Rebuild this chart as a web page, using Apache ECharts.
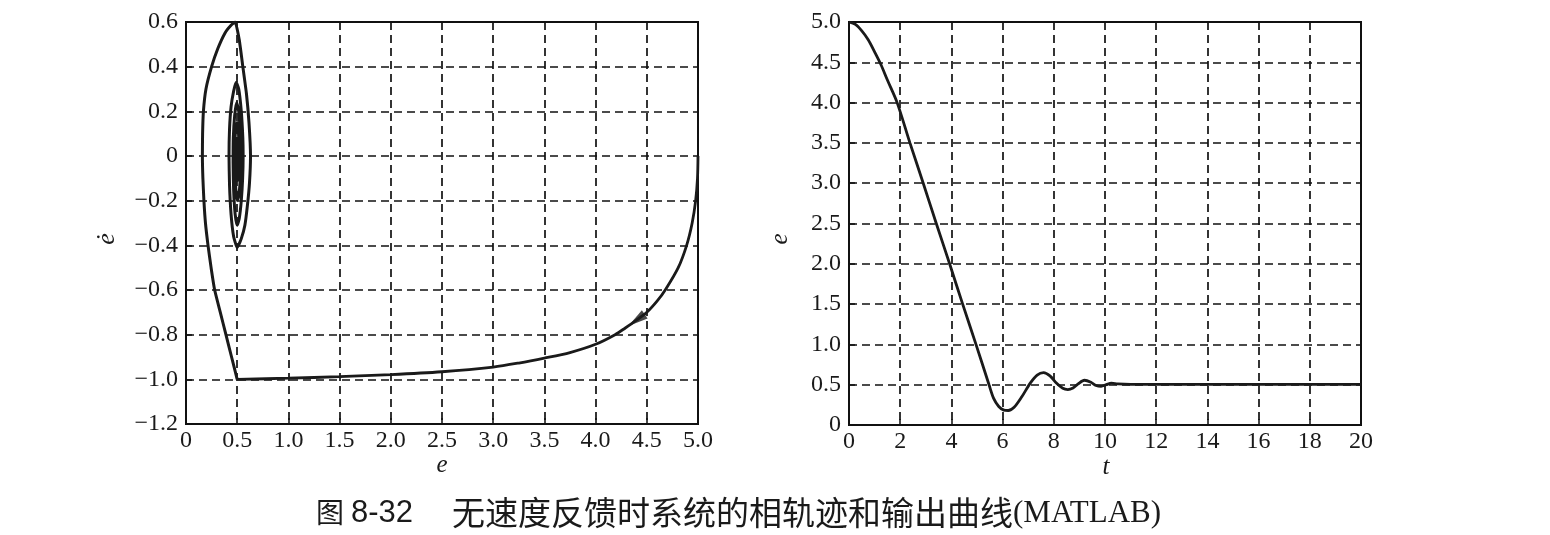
<!DOCTYPE html>
<html>
<head>
<meta charset="utf-8">
<script src="https://cdn.jsdelivr.net/npm/echarts@6/dist/echarts.min.js"></script>
<style>
  html, body { margin: 0; padding: 0; background: #fff; }
  #chart { width: 1550px; height: 535px; }
</style>
</head>
<body>
<div id="chart"></div>
<script>
// phase trajectory, part 1: from (5, 0) down to the corner at (0.5, -1)
var approachE = [5.00, 4.995, 4.977, 4.943, 4.889, 4.807, 4.68, 4.60, 4.50, 4.40, 4.29, 4.19, 4.00, 3.75, 3.50, 3.25,
  3.00, 2.50, 2.00, 1.50, 1.00, 0.50];
var approachEdot = [0.00, -0.10, -0.20, -0.30, -0.40, -0.50, -0.60, -0.65, -0.70, -0.735, -0.77, -0.80, -0.843, -0.88, -0.905, -0.927,
  -0.945, -0.966, -0.979, -0.988, -0.995, -1.00];

// phase trajectory, part 2: from the corner up and into the spiral round (0.5, 0)
var spiralE = [0.50, 0.445, 0.39, 0.335, 0.28, 0.245, 0.215, 0.19, 0.175, 0.165, 0.16, 0.162, 0.17, 0.195, 0.25, 0.31, 0.38, 0.44, 0.48,
  0.52, 0.555, 0.59, 0.615, 0.63, 0.62, 0.60, 0.575, 0.54, 0.50,
  0.465, 0.44, 0.425, 0.42, 0.425, 0.44, 0.465, 0.49,
  0.515, 0.54, 0.555, 0.558, 0.553, 0.54, 0.52, 0.50,
  0.48, 0.465, 0.46, 0.462, 0.475, 0.495,
  0.515, 0.53, 0.535, 0.53, 0.515, 0.50,
  0.485, 0.478, 0.478, 0.485, 0.50,
  0.513, 0.518, 0.515, 0.505, 0.495, 0.49, 0.493, 0.50,
  0.507, 0.508, 0.503, 0.497, 0.497, 0.50, 0.502];
var spiralEdot = [-1.00, -0.90, -0.80, -0.70, -0.60, -0.50, -0.40, -0.30, -0.20, -0.10, 0.00, 0.10, 0.20, 0.30, 0.40, 0.48, 0.55, 0.585, 0.60,
  0.52, 0.40, 0.28, 0.15, 0.00, -0.12, -0.22, -0.31, -0.37, -0.41,
  -0.36, -0.26, -0.13, 0.00, 0.12, 0.22, 0.29, 0.33,
  0.30, 0.20, 0.08, 0.00, -0.10, -0.20, -0.28, -0.31,
  -0.26, -0.15, -0.03, 0.08, 0.18, 0.24,
  0.20, 0.10, 0.00, -0.10, -0.18, -0.20,
  -0.14, -0.05, 0.05, 0.12, 0.15,
  0.10, 0.02, -0.06, -0.11, -0.08, 0.00, 0.06, 0.08,
  0.04, -0.02, -0.05, -0.02, 0.02, 0.03, 0.00];
var arrowPoint = [4.40, -0.735];

// output curve e(t) (right plot)
var timeT = [0, 0.25, 0.5, 0.75, 1.0, 1.25, 1.5, 1.88, 2.38, 2.9, 3.41, 3.93, 4.44, 4.96, 5.47, 5.65, 5.85, 6.05, 6.22, 6.45,
  6.75, 7.08, 7.35, 7.6, 7.85, 8.1, 8.35, 8.55, 8.75, 8.95, 9.2, 9.45, 9.65, 9.85, 10.05, 10.25, 10.5, 11, 12, 20];
var timeE = [5.0, 4.97, 4.89, 4.78, 4.63, 4.47, 4.28, 4.0, 3.5, 3.0, 2.5, 2.0, 1.5, 1.0, 0.5, 0.33, 0.23, 0.185, 0.18, 0.22,
  0.35, 0.52, 0.62, 0.65, 0.61, 0.52, 0.455, 0.44, 0.46, 0.51, 0.555, 0.53, 0.49, 0.48, 0.5, 0.52, 0.51, 0.505, 0.505, 0.505];

var caption = ['图', '8-32', '无速度反馈时系统的相轨迹和输出曲线', '(MATLAB)'];

function zip(a, b) {
  var out = [];
  for (var i = 0; i < a.length; i++) out.push([a[i], b[i]]);
  return out;
}
function fmt(v) {
  if (Math.abs(v) < 1e-9) return '0';
  return v.toFixed(1).replace('-', '\u2212');
}

var serif = '"Liberation Serif", "Times New Roman", serif';
var ink = '#1a1a1a';
var labelStyle = { color: ink, fontFamily: serif, fontSize: 24 };
var gridLine = { show: true, lineStyle: { color: '#111', type: [8, 5], width: 1.7 } };
var axisLine = { show: true, onZero: false, lineStyle: { color: '#111', width: 2 } };
var tick = { show: true, inside: true, length: 6, lineStyle: { color: '#111', width: 1.5 } };
var curve = { color: ink, width: 2.8 };

function xAx(grid, min, max, step, f) {
  return {
    type: 'value', gridIndex: grid, min: min, max: max, interval: step,
    axisLine: axisLine, axisTick: tick, splitLine: gridLine,
    axisLabel: Object.assign({ margin: 5, formatter: f, showMinLabel: true, showMaxLabel: true }, labelStyle)
  };
}
function yAx(grid, min, max, step, f) {
  return {
    type: 'value', gridIndex: grid, min: min, max: max, interval: step,
    axisLine: axisLine, axisTick: tick, splitLine: gridLine,
    axisLabel: Object.assign({ margin: 8, formatter: f, showMinLabel: true, showMaxLabel: true }, labelStyle)
  };
}
function label(x, y, text, font, rot) {
  return {
    type: 'text', x: x, y: y, rotation: rot || 0,
    style: { text: text, font: font, fill: ink, textAlign: 'center', textVerticalAlign: 'middle' }
  };
}
function captionPart(x, y, text, font) {
  return { type: 'text', x: x, y: y, style: { text: text, font: font, fill: ink, textAlign: 'left', textVerticalAlign: 'middle' } };
}

var chart = echarts.init(document.getElementById('chart'));
var option = {
  animation: false,
  backgroundColor: '#fff',
  grid: [
    { left: 186, top: 22, width: 512, height: 402, show: true, borderColor: '#111', borderWidth: 2, backgroundColor: 'transparent' },
    { left: 849, top: 22, width: 512, height: 403, show: true, borderColor: '#111', borderWidth: 2, backgroundColor: 'transparent' }
  ],
  xAxis: [
    xAx(0, 0, 5, 0.5, function (v) { return Math.abs(v) < 1e-9 ? '0' : v.toFixed(1); }),
    xAx(1, 0, 20, 2, function (v) { return String(Math.round(v)); })
  ],
  yAxis: [
    yAx(0, -1.2, 0.6, 0.2, fmt),
    yAx(1, 0, 5, 0.5, fmt)
  ],
  series: [
    { type: 'line', xAxisIndex: 0, yAxisIndex: 0, data: zip(approachE, approachEdot), showSymbol: false, smooth: 0.3, lineStyle: curve },
    { type: 'line', xAxisIndex: 0, yAxisIndex: 0, data: zip(spiralE, spiralEdot), showSymbol: false, smooth: 0.15, lineStyle: { color: ink, width: 3 } },
    {
      type: 'scatter', xAxisIndex: 0, yAxisIndex: 0, data: [arrowPoint],
      symbol: 'triangle', symbolSize: [10, 20], symbolRotate: 125,
      itemStyle: { color: ink }
    },
    { type: 'line', xAxisIndex: 1, yAxisIndex: 1, data: zip(timeT, timeE), showSymbol: false, smooth: 0.3, lineStyle: curve }
  ],
  graphic: [
    label(442, 465, 'e', 'italic 25px ' + serif),
    label(107, 239, '\u0117', 'italic 26px ' + serif, Math.PI / 2),
    label(1106, 467, 't', 'italic 25px ' + serif),
    label(780, 239, 'e', 'italic 25px ' + serif, Math.PI / 2),
    captionPart(316, 512, caption[0], '28px "Noto Sans CJK SC"'),
    captionPart(351, 513, caption[1], '31px "Liberation Sans", "Noto Sans", sans-serif'),
    captionPart(452, 512, caption[2], '33px "Noto Sans CJK SC"'),
    captionPart(1013, 514, caption[3], '31px ' + serif)
  ]
};
chart.setOption(option);
</script>
</body>
</html>
